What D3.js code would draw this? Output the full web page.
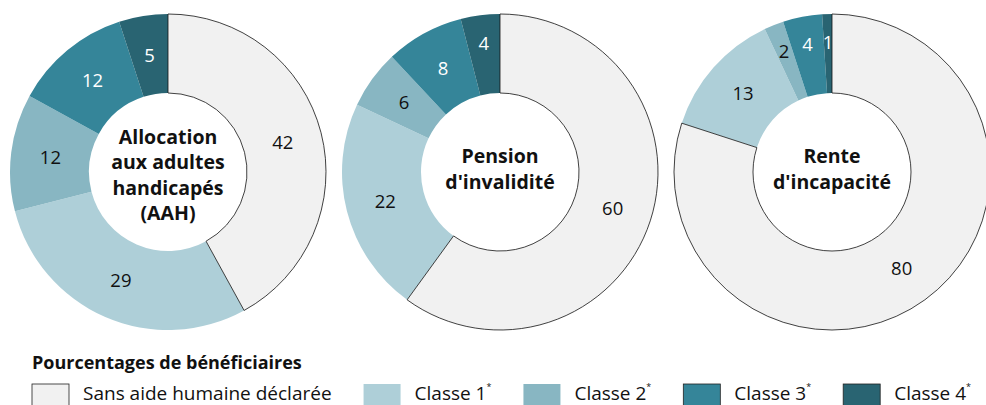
<!DOCTYPE html>
<html>
<head>
<meta charset="utf-8">
<script src="https://cdn.jsdelivr.net/npm/d3@7"></script>
<style>
  body { margin: 0; background: #fff; }
  svg { display: block; font-family: "Open Sans", "Noto Sans", sans-serif; }
</style>
</head>
<body>
<svg id="chart"></svg>
<script>
// data (percent of beneficiaries)
var categories = ["Sans aide humaine déclarée", "Classe 1", "Classe 2", "Classe 3", "Classe 4"];
var chartTitles = [
  ["Allocation", "aux adultes", "handicapés", "(AAH)"],
  ["Pension", "d'invalidité"],
  ["Rente", "d'incapacité"]
];
var aahValues = [42, 29, 12, 12, 5];
var pensionValues = [60, 22, 6, 8, 4];
var renteValues = [80, 13, 2, 4, 1];
var legendTitle = "Pourcentages de bénéficiaires";

var colors = ["#f1f1f1", "#aecfd8", "#88b6c2", "#358599", "#296472"];
var textColors = ["#111", "#111", "#111", "#fff", "#fff"];

var width = 986;
var height = 405;
var outerR = 158;
var innerR = 79;
var cy = 172;

var svg = d3.select("#chart").attr("width", width).attr("height", height);

var color = d3.scaleOrdinal().domain(categories).range(colors);
var labelColor = d3.scaleOrdinal().domain(categories).range(textColors);

// centres of the three donuts
var xPos = d3.scalePoint().domain([0, 1, 2]).range([168, 832]);

var pie = d3.pie().sort(null).value(function (d) { return d.value; });
var arc = d3.arc().innerRadius(innerR).outerRadius(outerR);
// small slices get their label pushed outwards a bit
var arcOut = d3.arc().innerRadius(130).outerRadius(130);

var allValues = [aahValues, pensionValues, renteValues];

allValues.forEach(function (vals, i) {
  var rows = vals.map(function (v, k) { return { cat: categories[k], value: v }; });
  var g = svg.append("g").attr("transform", "translate(" + xPos(i) + "," + cy + ")");

  g.selectAll("path")
    .data(pie(rows))
    .enter()
    .append("path")
    .attr("d", arc)
    .attr("fill", function (d) { return color(d.data.cat); })
    .attr("stroke", function (d) { return d.index === 0 ? "#111" : "none"; })
    .attr("stroke-width", 0.8);

  // bring the outlined slice on top so its border is not covered
  g.selectAll("path").filter(function (d) { return d.index === 0; }).raise();

  g.selectAll("text.val")
    .data(pie(rows))
    .enter()
    .append("text")
    .attr("class", "val")
    .attr("transform", function (d) {
      var c = d.data.value < 5 ? arcOut.centroid(d) : arc.centroid(d);
      return "translate(" + c + ")";
    })
    .attr("text-anchor", "middle")
    .attr("dy", "0.36em")
    .attr("font-size", 18.5)
    .attr("fill", function (d) { return labelColor(d.data.cat); })
    .text(function (d) { return d.data.value; });

  var lines = chartTitles[i];
  var n = lines.length;
  g.append("text")
    .attr("text-anchor", "middle")
    .attr("font-weight", "bold")
    .attr("font-size", 19.5)
    .attr("fill", "#111")
    .selectAll("tspan")
    .data(lines)
    .enter()
    .append("tspan")
    .attr("x", 0)
    .attr("y", function (d, k) { return 4 + 3 * (n - 2) + (k - (n - 1) / 2) * 25.5; })
    .text(function (d) { return d; });
});

// legend
var legend = svg.append("g");
legend.append("text")
  .attr("x", 32)
  .attr("y", 369)
  .attr("font-size", 18)
  .attr("font-weight", "bold")
  .attr("fill", "#111")
  .text(legendTitle);

var lx = 32;
categories.forEach(function (c, k) {
  var item = legend.append("g").attr("transform", "translate(" + lx + ",0)");
  item.append("rect")
    .attr("x", 0)
    .attr("y", 384)
    .attr("width", 37)
    .attr("height", 26)
    .attr("fill", color(c))
    .attr("stroke", (k === 0 || k >= 3) ? "#222" : "none")
    .attr("stroke-width", 0.8);
  var t = item.append("text")
    .attr("x", 51)
    .attr("y", 400)
    .attr("font-size", 19)
    .attr("fill", "#111")
    .text(c);
  if (k > 0) {
    t.append("tspan")
      .attr("font-size", 9)
      .attr("dy", -10)
      .text("*");
  }
  lx += 51 + t.node().getComputedTextLength() + 32;
});
</script>
</body>
</html>
